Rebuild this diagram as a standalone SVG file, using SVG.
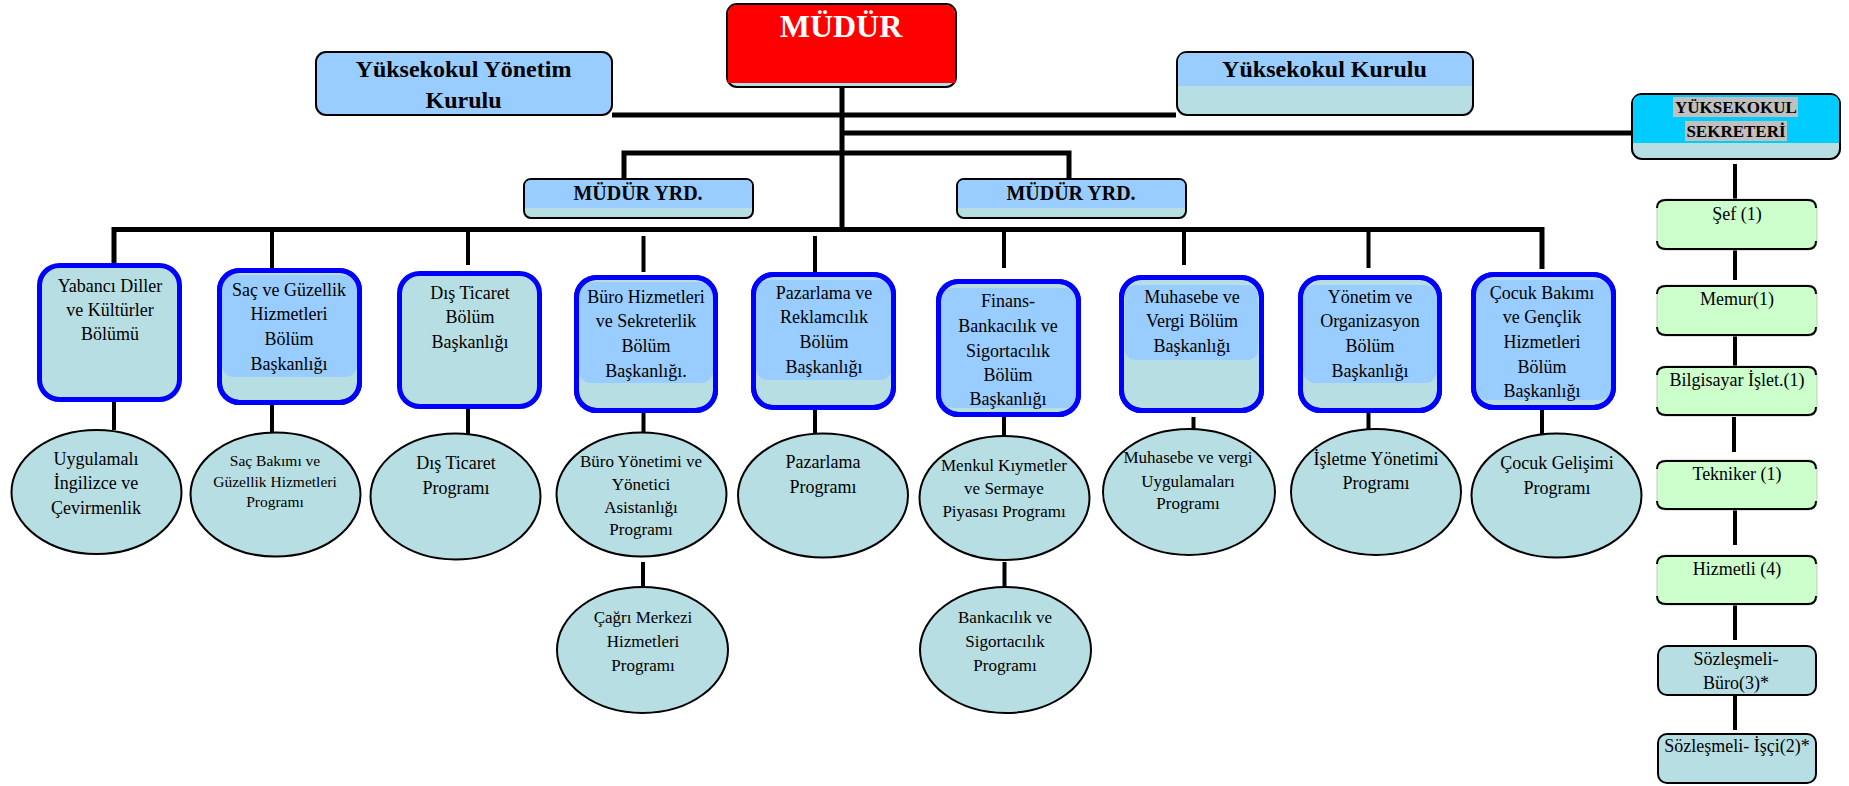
<svg xmlns="http://www.w3.org/2000/svg" width="1849" height="786" viewBox="0 0 1849 786">
<style>
.t{font-family:"Liberation Serif","Times New Roman",serif;fill:#000;text-anchor:middle}
.b{font-weight:bold}
.dept{fill:#B7DEE2;stroke:#0000FF;stroke-width:5}
.blue{fill:#99CCFF}
.teal{fill:#B7DEE2}
.ell{fill:#B7DEE2;stroke:#000;stroke-width:2}
.box{stroke:#000;stroke-width:2}
.ln{stroke:#000;stroke-width:4;fill:none}
.lnb{stroke:#000;stroke-width:5;fill:none}
.edge{stroke:#000;stroke-width:2;fill:none}
.f18{font-size:18px}
.f17{font-size:17px}
</style>
<rect width="1849" height="786" fill="#fff"/>

<g id="connectors">
<line class="lnb" x1="842" y1="87" x2="842" y2="229.5"/>
<line class="lnb" x1="612" y1="115" x2="1176" y2="115"/>
<line class="lnb" x1="844" y1="133" x2="1631" y2="133"/>
<polyline class="lnb" points="624,178 624,153 1069,153 1069,178"/>
<polyline class="lnb" points="114,263 114,229.5 1542,229.5 1542,269"/>
<line class="ln" x1="272" y1="232" x2="272" y2="268"/>
<line class="ln" x1="468" y1="232" x2="468" y2="265"/>
<line class="ln" x1="643.5" y1="236" x2="643.5" y2="272"/>
<line class="ln" x1="815" y1="236" x2="815" y2="272"/>
<line class="ln" x1="1004" y1="232" x2="1004" y2="268"/>
<line class="ln" x1="1184" y1="232" x2="1184" y2="265"/>
<line class="ln" x1="1368.5" y1="232" x2="1368.5" y2="268"/>
<line class="ln" x1="114" y1="402" x2="114" y2="430"/>
<line class="ln" x1="272" y1="405" x2="272" y2="433"/>
<line class="ln" x1="468" y1="409" x2="468" y2="434"/>
<line class="ln" x1="643.5" y1="413" x2="643.5" y2="433"/>
<line class="ln" x1="815" y1="405" x2="815" y2="434"/>
<line class="ln" x1="1004" y1="412" x2="1004" y2="437"/>
<line class="ln" x1="1193.5" y1="417" x2="1193.5" y2="430"/>
<line class="ln" x1="1368.5" y1="412" x2="1368.5" y2="430"/>
<line class="ln" x1="1542" y1="410" x2="1542" y2="434"/>
<line class="ln" x1="643" y1="562" x2="643" y2="588"/>
<line class="ln" x1="1004.5" y1="562" x2="1004.5" y2="588"/>
<line class="ln" x1="1735" y1="164" x2="1735" y2="199"/>
<line class="ln" x1="1735" y1="245" x2="1735" y2="280"/>
<line class="ln" x1="1735" y1="336" x2="1735" y2="371"/>
<line class="ln" x1="1734" y1="417" x2="1734" y2="452"/>
<line class="ln" x1="1735" y1="510" x2="1735" y2="545"/>
<line class="ln" x1="1735" y1="605" x2="1735" y2="640"/>
<line class="ln" x1="1735" y1="695" x2="1735" y2="730"/>
</g>

<g id="mudur">
<rect class="box" x="727" y="4" width="229" height="83" rx="10" fill="#B7DEE2"/>
<path d="M728 14 Q728 5 737 5 H945 Q955 5 955 14 V83 H728 Z" fill="#FF0000"/>
<text class="t b" x="841" y="37" font-size="32" fill="#fff" style="fill:#fff">MÜDÜR</text>
</g>

<g id="yonetim-kurulu">
<rect class="box" x="316" y="52" width="296" height="63" rx="10" fill="#99CCFF"/>
<text class="t b" x="463.5" y="77" font-size="24">Yüksekokul Yönetim</text>
<text class="t b" x="463.5" y="108" font-size="24">Kurulu</text>
</g>

<g id="yuksekokul-kurulu">
<rect class="box" x="1177" y="52" width="296" height="63" rx="10" fill="#B7DEE2"/>
<path d="M1178 62 Q1178 53 1187 53 H1462 Q1472 53 1472 62 V86 H1178 Z" fill="#99CCFF"/>
<text class="t b" x="1324.5" y="77" font-size="24">Yüksekokul Kurulu</text>
</g>

<g id="mudur-yrd-1">
<rect class="box" x="524" y="179" width="229" height="39" rx="7" fill="#B7DEE2"/>
<path d="M525 186 Q525 180 531 180 H746 Q752 180 752 186 V208 H525 Z" fill="#99CCFF"/>
<text class="t b" x="638" y="200" font-size="20">MÜDÜR YRD.</text>
</g>
<g id="mudur-yrd-2">
<rect class="box" x="957" y="179" width="229" height="39" rx="7" fill="#B7DEE2"/>
<path d="M958 186 Q958 180 964 180 H1179 Q1185 180 1185 186 V208 H958 Z" fill="#99CCFF"/>
<text class="t b" x="1071" y="200" font-size="20">MÜDÜR YRD.</text>
</g>

<g id="sekreter">
<rect class="box" x="1632" y="94" width="208" height="65" rx="10" fill="#B7DEE2"/>
<path d="M1633 103 Q1633 95 1642 95 H1830 Q1839 95 1839 103 V143 H1633 Z" fill="#00CCFF"/>
<rect x="1673" y="97" width="125" height="20" fill="#C0C0C0"/>
<rect x="1685" y="121" width="102" height="20" fill="#C0C0C0"/>
<text class="t b" x="1736" y="113" font-size="17">YÜKSEKOKUL</text>
<text class="t b" x="1736" y="137" font-size="17">SEKRETERİ</text>
</g>

<g id="dept-yabanci">
<rect class="dept" x="39.5" y="265.5" width="140" height="134" rx="20"/>
<text class="t f18" x="110" y="292">Yabancı Diller</text>
<text class="t f18" x="110" y="316">ve Kültürler</text>
<text class="t f18" x="110" y="340">Bölümü</text>
</g>
<g id="dept-sac">
<rect class="dept" x="219.5" y="270.5" width="140" height="132" rx="20"/>
<rect class="blue" x="222" y="275" width="135" height="102" rx="12"/>
<rect x="219.5" y="270.5" width="140" height="132" rx="20" fill="none" stroke="#0000FF" stroke-width="5"/>
<text class="t f18" x="289" y="296">Saç ve Güzellik</text>
<text class="t f18" x="289" y="320">Hizmetleri</text>
<text class="t f18" x="289" y="345">Bölüm</text>
<text class="t f18" x="289" y="370">Başkanlığı</text>
</g>
<g id="dept-dis">
<rect class="dept" x="399.5" y="273.5" width="140" height="133" rx="20"/>
<text class="t f18" x="470" y="299">Dış Ticaret</text>
<text class="t f18" x="470" y="323">Bölüm</text>
<text class="t f18" x="470" y="348">Başkanlığı</text>
</g>
<g id="dept-buro">
<rect class="dept" x="576.5" y="277.5" width="139" height="133" rx="20"/>
<rect class="blue" x="579" y="282" width="134" height="101" rx="12"/>
<rect x="576.5" y="277.5" width="139" height="133" rx="20" fill="none" stroke="#0000FF" stroke-width="5"/>
<text class="t f18" x="646" y="303">Büro Hizmetleri</text>
<text class="t f18" x="646" y="327">ve Sekreterlik</text>
<text class="t f18" x="646" y="352">Bölüm</text>
<text class="t f18" x="646" y="377">Başkanlığı.</text>
</g>
<g id="dept-pazarlama">
<rect class="dept" x="753.5" y="274.5" width="140" height="133" rx="20"/>
<rect class="blue" x="756" y="280" width="136" height="100" rx="12"/>
<rect x="753.5" y="274.5" width="140" height="133" rx="20" fill="none" stroke="#0000FF" stroke-width="5"/>
<text class="t f18" x="824" y="299">Pazarlama ve</text>
<text class="t f18" x="824" y="323">Reklamcılık</text>
<text class="t f18" x="824" y="348">Bölüm</text>
<text class="t f18" x="824" y="373">Başkanlığı</text>
</g>
<g id="dept-finans">
<rect class="dept" x="938.5" y="281.5" width="140" height="133" rx="20"/>
<rect class="blue" x="941" y="288" width="135" height="120" rx="12"/>
<rect x="938.5" y="281.5" width="140" height="133" rx="20" fill="none" stroke="#0000FF" stroke-width="5"/>
<text class="t f18" x="1008" y="307">Finans-</text>
<text class="t f18" x="1008" y="332">Bankacılık ve</text>
<text class="t f18" x="1008" y="357">Sigortacılık</text>
<text class="t f18" x="1008" y="381">Bölüm</text>
<text class="t f18" x="1008" y="405">Başkanlığı</text>
</g>
<g id="dept-muhasebe">
<rect class="dept" x="1121.5" y="277.5" width="140" height="133" rx="20"/>
<rect class="blue" x="1125" y="285" width="133" height="75" rx="10"/>
<rect x="1121.5" y="277.5" width="140" height="133" rx="20" fill="none" stroke="#0000FF" stroke-width="5"/>
<text class="t f18" x="1192" y="303">Muhasebe ve</text>
<text class="t f18" x="1192" y="327">Vergi Bölüm</text>
<text class="t f18" x="1192" y="352">Başkanlığı</text>
</g>
<g id="dept-yonetim">
<rect class="dept" x="1300.5" y="277.5" width="139" height="133" rx="20"/>
<rect class="blue" x="1303" y="285" width="134" height="98" rx="12"/>
<rect x="1300.5" y="277.5" width="139" height="133" rx="20" fill="none" stroke="#0000FF" stroke-width="5"/>
<text class="t f18" x="1370" y="303">Yönetim ve</text>
<text class="t f18" x="1370" y="327">Organizasyon</text>
<text class="t f18" x="1370" y="352">Bölüm</text>
<text class="t f18" x="1370" y="377">Başkanlığı</text>
</g>
<g id="dept-cocuk">
<rect class="dept" x="1473.5" y="274.5" width="140" height="133" rx="20"/>
<rect class="blue" x="1476" y="280" width="135" height="120" rx="12"/>
<rect x="1473.5" y="274.5" width="140" height="133" rx="20" fill="none" stroke="#0000FF" stroke-width="5"/>
<text class="t f18" x="1542" y="299">Çocuk Bakımı</text>
<text class="t f18" x="1542" y="323">ve Gençlik</text>
<text class="t f18" x="1542" y="348">Hizmetleri</text>
<text class="t f18" x="1542" y="373">Bölüm</text>
<text class="t f18" x="1542" y="397">Başkanlığı</text>
</g>

<g id="prog-uygulamali">
<ellipse class="ell" cx="96.5" cy="492" rx="85" ry="62"/>
<text class="t f18" x="96" y="465">Uygulamalı</text>
<text class="t f18" x="96" y="489">İngilizce ve</text>
<text class="t f18" x="96" y="514">Çevirmenlik</text>
</g>
<g id="prog-sac">
<ellipse class="ell" cx="275.5" cy="494.5" rx="85" ry="62"/>
<text class="t" font-size="15.5" x="275" y="466">Saç Bakımı ve</text>
<text class="t" font-size="15.5" x="275" y="487">Güzellik Hizmetleri</text>
<text class="t" font-size="15.5" x="275" y="507">Programı</text>
</g>
<g id="prog-dis">
<ellipse class="ell" cx="455.5" cy="496.5" rx="85" ry="63"/>
<text class="t f18" x="456" y="469">Dış Ticaret</text>
<text class="t f18" x="456" y="494">Programı</text>
</g>
<g id="prog-buro">
<ellipse class="ell" cx="641.5" cy="494.5" rx="85" ry="62"/>
<text class="t f17" x="641" y="467">Büro Yönetimi ve</text>
<text class="t f17" x="641" y="490">Yönetici</text>
<text class="t f17" x="641" y="513">Asistanlığı</text>
<text class="t f17" x="641" y="535">Programı</text>
</g>
<g id="prog-pazarlama">
<ellipse class="ell" cx="823" cy="495.5" rx="85" ry="62"/>
<text class="t f18" x="823" y="468">Pazarlama</text>
<text class="t f18" x="823" y="493">Programı</text>
</g>
<g id="prog-menkul">
<ellipse class="ell" cx="1004.5" cy="498" rx="85" ry="62"/>
<text class="t f17" x="1004" y="471">Menkul Kıymetler</text>
<text class="t f17" x="1004" y="494">ve Sermaye</text>
<text class="t f17" x="1004" y="517">Piyasası Programı</text>
</g>
<g id="prog-muhasebe">
<ellipse class="ell" cx="1189" cy="492" rx="86" ry="63"/>
<text class="t f17" x="1188" y="463">Muhasebe ve vergi</text>
<text class="t f17" x="1188" y="487">Uygulamaları</text>
<text class="t f17" x="1188" y="509">Programı</text>
</g>
<g id="prog-isletme">
<ellipse class="ell" cx="1376" cy="492" rx="85" ry="63"/>
<text class="t f18" x="1376" y="465">İşletme Yönetimi</text>
<text class="t f18" x="1376" y="489">Programı</text>
</g>
<g id="prog-cocuk">
<ellipse class="ell" cx="1556.5" cy="495.5" rx="85" ry="62"/>
<text class="t f18" x="1557" y="469">Çocuk Gelişimi</text>
<text class="t f18" x="1557" y="494">Programı</text>
</g>
<g id="prog-cagri">
<ellipse class="ell" cx="642.5" cy="650" rx="85.5" ry="63"/>
<text class="t f17" x="643" y="623">Çağrı Merkezi</text>
<text class="t f17" x="643" y="647">Hizmetleri</text>
<text class="t f17" x="643" y="671">Programı</text>
</g>
<g id="prog-bankacilik">
<ellipse class="ell" cx="1005.5" cy="650" rx="85.5" ry="63"/>
<text class="t f17" x="1005" y="623">Bankacılık ve</text>
<text class="t f17" x="1005" y="647">Sigortacılık</text>
<text class="t f17" x="1005" y="671">Programı</text>
</g>

<g id="staff-sef">
<rect x="1657" y="199" width="160" height="51" rx="8" fill="#CCFFCC" stroke="#c8c8c8" stroke-width="1"/>
<path class="edge" d="M1657 208 Q1657 200 1666 200 H1808 Q1816 200 1816 208"/>
<path class="edge" d="M1657 241 Q1657 249 1666 249 H1808 Q1816 249 1816 241"/>
<text class="t f18" x="1737" y="220">Şef (1)</text>
</g>
<g id="staff-memur">
<rect x="1657" y="285" width="160" height="51" rx="8" fill="#CCFFCC" stroke="#c8c8c8" stroke-width="1"/>
<path class="edge" d="M1657 294 Q1657 286 1666 286 H1808 Q1816 286 1816 294"/>
<path class="edge" d="M1657 327 Q1657 335 1666 335 H1808 Q1816 335 1816 327"/>
<text class="t f18" x="1737" y="305">Memur(1)</text>
</g>
<g id="staff-bilgisayar">
<rect x="1657" y="366" width="160" height="50" rx="8" fill="#CCFFCC" stroke="#c8c8c8" stroke-width="1"/>
<path class="edge" d="M1657 375 Q1657 367 1666 367 H1808 Q1816 367 1816 375"/>
<path class="edge" d="M1657 407 Q1657 415 1666 415 H1808 Q1816 415 1816 407"/>
<text class="t f18" x="1737" y="386">Bilgisayar İşlet.(1)</text>
</g>
<g id="staff-tekniker">
<rect x="1657" y="460" width="160" height="50" rx="8" fill="#CCFFCC" stroke="#c8c8c8" stroke-width="1"/>
<path class="edge" d="M1657 469 Q1657 461 1666 461 H1808 Q1816 461 1816 469"/>
<path class="edge" d="M1657 501 Q1657 509 1666 509 H1808 Q1816 509 1816 501"/>
<text class="t f18" x="1737" y="480">Tekniker (1)</text>
</g>
<g id="staff-hizmetli">
<rect x="1657" y="555" width="160" height="50" rx="8" fill="#CCFFCC" stroke="#c8c8c8" stroke-width="1"/>
<path class="edge" d="M1657 564 Q1657 556 1666 556 H1808 Q1816 556 1816 564"/>
<path class="edge" d="M1657 596 Q1657 604 1666 604 H1808 Q1816 604 1816 596"/>
<text class="t f18" x="1737" y="575">Hizmetli (4)</text>
</g>
<g id="staff-sozlesmeli-buro">
<rect class="box" x="1658" y="646" width="158" height="49" rx="9" fill="#B7DEE2"/>
<text class="t f18" x="1736" y="665">Sözleşmeli-</text>
<text class="t f18" x="1736" y="689">Büro(3)*</text>
</g>
<g id="staff-sozlesmeli-isci">
<rect class="box" x="1658" y="734" width="158" height="49" rx="9" fill="#B7DEE2"/>
<text class="t f18" x="1737" y="752">Sözleşmeli- İşçi(2)*</text>
</g>
</svg>
